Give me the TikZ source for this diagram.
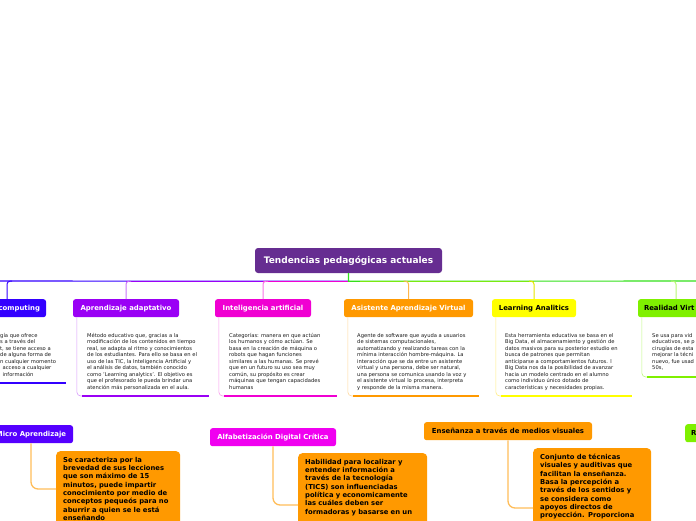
\documentclass[tikz,border=0pt]{standalone}
\usepackage{fontspec}
\setmainfont{DejaVu Sans}
\usepackage{xcolor}
\usetikzlibrary{positioning}

\definecolor{rootpurple}{HTML}{662D91}
\definecolor{cblue}{HTML}{3300FF}
\definecolor{cindigo}{HTML}{5500FF}
\definecolor{cviolet}{HTML}{9A00F5}
\definecolor{cmagenta}{HTML}{F000D2}
\definecolor{cpink}{HTML}{F000F0}
\definecolor{corange}{HTML}{FF9900}
\definecolor{cyellow}{HTML}{FFFF00}
\definecolor{clime}{HTML}{7FF000}
\definecolor{cgreen}{HTML}{33E01A}

\begin{document}
\begin{tikzpicture}[
    x=1pt, y=-1pt,
    root/.style={fill=rootpurple, text=white, rounded corners=3pt, minimum width=187pt, minimum height=25pt, font=\bfseries\fontsize{9}{11}\selectfont},
    topic/.style={rounded corners=2.5pt, minimum height=18pt, inner xsep=6pt, inner ysep=0pt, anchor=north, font=\bfseries\fontsize{6.9}{8}\selectfont},
    note/.style={anchor=north west, align=left, inner sep=0pt, text=black!90, font=\fontsize{5.2}{6.5}\selectfont},
    card/.style={fill=corange, rounded corners=4pt, anchor=north west, align=left, inner xsep=7pt, inner ysep=6pt, font=\bfseries\fontsize{6.8}{8.3}\selectfont},
    trunk/.style={line width=1.1pt},
    hook/.style={line width=1pt, rounded corners=3pt},
    rim/.style={line width=0.6pt, rounded corners=4pt},
    bar/.style={line width=2.6pt},
    cardlink/.style={corange!65, line width=1.3pt, rounded corners=7pt}
]
\useasboundingbox (0,0) rectangle (696,520);

% central topic
\node[root] (root) at (348.5,260.5) {Tendencias pedagógicas actuales};
\coordinate[below=8pt of root] (hub);
\coordinate (west) at (-4,281);
\coordinate (east) at (700,281);

% main topics
\node[topic, fill=cblue, text=white, text width=66pt, align=right] (cloud) at (7,299) {computing};
\node[topic, fill=cviolet, text=white, minimum width=106pt] (adapt) at (126,299) {Aprendizaje adaptativo};
\node[topic, fill=cmagenta, text=white, minimum width=96pt] (ia) at (263,299) {Inteligencia artificial};
\node[topic, fill=corange, text=white, minimum width=129pt] (asist) at (408.5,299) {Asistente Aprendizaje Virtual};
\node[topic, fill=cyellow, minimum width=84pt] (learn) at (534,299) {Learning Analitics};
\node[topic, fill=clime, text width=64pt, align=left] (rv) at (676,299) {Realidad Virt};

% notes
\node[note] (cloudnote) at (0,333) {gía que ofrece\\s a través del\\t, se tiene acceso a\\de alguna forma de\\n cualquier momento\\\hspace*{2.5pt}acceso a cualquier\\\hspace*{2.5pt}información};
\node[note] (adaptnote) at (87,333) {Método educativo que, gracias a la\\modificación de los contenidos en tiempo\\real, se adapta al ritmo y conocimientos\\de los estudiantes. Para ello se basa en el\\uso de las TIC, la Inteligencia Artificial y\\el análisis de datos, también conocido\\como 'Learning analytics'.  El objetivo es\\que el profesorado le pueda brindar una\\atención más personalizada en el aula.};
\node[note] (ianote) at (229,333) {Categorías: manera en que actúan\\los humanos y cómo actúan. Se\\basa en la creación de máquina o\\robots que hagan funciones\\similares a las humanas. Se prevé\\que en un futuro su uso sea muy\\común, su propósito es crear\\máquinas que tengan capacidades\\humanas};
\node[note] (asistnote) at (357,333) {Agente de software que ayuda a usuarios\\de sistemas computacionales,\\automatizando y realizando tareas con la\\mínima interacción hombre-máquina. La\\interacción que se da entre un asistente\\virtual y una persona, debe ser natural,\\una persona se comunica usando la voz y\\el asistente virtual lo procesa, interpreta\\y responde de la misma manera.};
\node[note] (learnnote) at (505,333) {Esta herramienta educativa se basa en el\\Big Data, el almacenamiento y gestión de\\datos masivos para su posterior estudio en\\busca de patrones que permitan\\anticiparse a comportamientos futuros. l\\Big Data nos da la posibilidad de avanzar\\hacia un modelo centrado en el alumno\\como individuo único dotado de\\características y necesidades propias.};
\node[note] (rvnote) at (652,333) {Se usa para vid\\educativos, se p\\cirugías de esta\\mejorar la técni\\nuevo, fue usad\\50s,};

% second row topics
\node[topic, fill=cindigo, text=white, minimum width=84pt] (micro) at (31,425) {Micro Aprendizaje};
\node[topic, fill=cpink, text=white, minimum width=126pt] (alfa) at (273,428) {Alfabetización Digital Crítica};
\node[topic, fill=corange, minimum width=168pt] (ense) at (508,422) {Enseñanza a través de medios visuales};
\node[topic, fill=clime, anchor=north west, text width=40pt, align=left] (rtopic) at (685,424) {R};

% orange cards
\node[card, text width=110pt] (card1) at (56,451) {Se caracteriza por la\\brevedad de sus lecciones\\que son máximo de 15\\minutos, puede impartir\\conocimiento por medio de\\conceptos pequeós para no\\aburrir a quien se le está\\enseñando};
\node[card, text width=115pt] (card2) at (298,453) {Habilidad para localizar y\\entender información a\\través de la tecnología\\(TICS) son influenciadas\\política y economicamente\\las cuáles deben ser\\formadoras y basarse en un\\\mbox{}};
\node[card, text width=104pt] (card3) at (533,448) {Conjunto de técnicas\\visuales y auditivas que\\facilitan la enseñanza.\\Basa la percepción a\\través de los sentidos y\\se considera como\\apoyos directos de\\proyección. Proporciona};

% trunk
\draw[trunk, cblue] (hub) -- (west);
\draw[trunk, cviolet] (hub) -- (hub -| adapt.north);
\draw[trunk, cmagenta] (hub) -- (hub -| ia.north);
\draw[trunk, corange] (hub) -- (hub -| asist.north);
\draw[trunk, cyellow] (hub) -- (hub -| learn.north);
\draw[trunk, cgreen] (root.south) -- (hub) -- (east);

% hooks
\draw[hook, cblue] ([xshift=5pt]hub -| cloud.north) -| (cloud.north);
\draw[hook, cviolet!55] ([xshift=5pt]hub -| adapt.north) -| (adapt.north);
\draw[hook, cmagenta!55] ([xshift=5pt]hub -| ia.north) -| (ia.north);
\draw[hook, corange!70] ([xshift=-5pt]hub -| asist.north) -| (asist.north);
\draw[hook, cyellow!90!black] ([xshift=-5pt]hub -| learn.north) -| (learn.north);
\draw[hook, clime!55] ([xshift=-5pt]hub -| rv.north) -| (rv.north);

% rims and bars
\coordinate (cloudA) at (-4,383);
\coordinate (cloudB) at (66,383);
\coordinate (adaptA) at (82,396);
\coordinate (adaptB) at (209,396);
\coordinate (iaA) at (224,396);
\coordinate (iaB) at (337,396);
\coordinate (asistA) at (353,396);
\coordinate (asistB) at (479,396);
\coordinate (learnA) at (501,396);
\coordinate (learnB) at (632,396);
\coordinate (rvA) at (647,377);
\coordinate (rvB) at (700,377);
\draw[bar, cblue] (cloudA) -- (cloudB);
\draw[rim, cviolet!40] ([xshift=4pt]adapt.south west) |- (adaptA);
\draw[bar, cviolet] (adaptA) -- (adaptB);
\draw[rim, cmagenta!40] ([xshift=4pt]ia.south west) |- (iaA);
\draw[bar, cmagenta] (iaA) -- (iaB);
\draw[rim, corange!40] ([xshift=4pt]asist.south west) |- (asistA);
\draw[bar, corange] (asistA) -- (asistB);
\draw[rim, cyellow!70!orange!50] ([xshift=4pt]learn.south west) |- (learnA);
\draw[bar, cyellow] (learnA) -- (learnB);
\draw[rim, clime!50] ([xshift=4pt]rv.south west) |- (rvA);
\draw[bar, clime] (rvA) -- (rvB);

% links to cards
\draw[cardlink] (micro.south) |- ([yshift=-38pt]card1.north west);
\draw[cardlink] (alfa.south) |- ([yshift=-52pt]card2.north west);
\draw[cardlink] (ense.south) |- ([yshift=-60pt]card3.north west);
\end{tikzpicture}
\end{document}
